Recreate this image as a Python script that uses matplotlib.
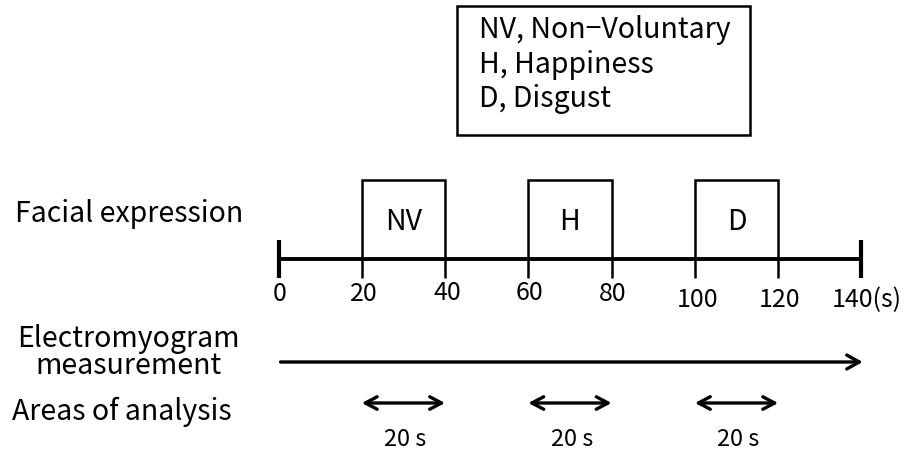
import matplotlib
matplotlib.use("Agg")
import matplotlib.pyplot as plt
from matplotlib.patches import Rectangle

plt.rcParams['font.family'] = ['Noto Sans CJK JP', 'DejaVu Sans']

# Data
conditions = ["NV", "H", "D"]
cond_start = [20, 60, 100]
cond_end = [40, 80, 120]
tick_values = [0, 20, 40, 60, 80, 100, 120, 140]
tick_labels = ["0", "20", "40", "60", "80", "100", "120", "140(s)"]
total_time = 140
analysis_start = [20, 60, 100]
analysis_end = [40, 80, 120]
analysis_labels = ["20 s", "20 s", "20 s"]
legend_lines = ["NV, Non\u2212Voluntary", "H, Happiness", "D, Disgust"]
row_labels = ["Facial expression", "Electromyogram", "measurement", "Areas of analysis"]

W, H = 919, 451
fig = plt.figure(figsize=(W / 100, H / 100), dpi=100)
ax = fig.add_axes([0, 0, 1, 1])
px0, pxs = 278.5, 4.164  # pixel of t=0, pixels per second
ax.set_xlim(-px0 / pxs, (W - px0) / pxs)
ax.set_ylim(H, 0)
ax.axis("off")


def px(x):
    return (x - px0) / pxs


fs = 20.5
y_line = 259
# main timeline
ax.plot([0, total_time], [y_line, y_line], color="black", lw=2.8, solid_capstyle="butt")
for t in [0, total_time]:
    ax.plot([t, t], [240, 278], color="black", lw=3.0, solid_capstyle="butt")
# condition boxes (sides extend below the timeline)
for name, s, e in zip(conditions, cond_start, cond_end):
    ax.plot([s, s, e, e], [278, 180, 180, 278], color="black", lw=1.8,
            solid_joinstyle="miter", solid_capstyle="butt")
    ax.text((s + e) / 2, 230, name, ha="center", va="baseline", fontsize=fs)
# tick labels
label_base = [301, 301, 300, 300, 301, 307, 307, 307]
label_dx = [0.3, 0.5, 0.5, 0.3, 0.3, 0.7, 0.3, 0]
for v, lab, yy, dx in zip(tick_values, tick_labels, label_base, label_dx):
    if lab.endswith("(s)"):
        ax.text(px(832), yy, lab, ha="left", va="baseline", fontsize=18)
    else:
        ax.text(v + dx, yy, lab, ha="center", va="baseline", fontsize=18)

# EMG arrow
ax.annotate("", xy=(total_time + 0.3, 362), xytext=(0.5, 362),
            arrowprops=dict(arrowstyle="->,head_length=0.9,head_width=0.5", lw=2.4, color="black",
                            shrinkA=0, shrinkB=0))
# analysis arrows
for s, e, lab in zip(analysis_start, analysis_end, analysis_labels):
    ax.annotate("", xy=(e, 403), xytext=(s, 403),
                arrowprops=dict(arrowstyle="<->,head_length=0.85,head_width=0.45", lw=2.4, color="black",
                                shrinkA=0, shrinkB=0))
    ax.text((s + e) / 2 + 0.5, 446, lab, ha="center", va="baseline", fontsize=17)

# row labels
ax.text(px(15), 222, row_labels[0], ha="left", va="baseline", fontsize=fs)
ax.text(px(128), 347, row_labels[1], ha="center", va="baseline", fontsize=fs)
ax.text(px(128), 374, row_labels[2], ha="center", va="baseline", fontsize=fs)
ax.text(px(12), 420, row_labels[3], ha="left", va="baseline", fontsize=fs)

# legend box
bx0, bx1, by0, by1 = 457, 750, 6, 135
ax.add_patch(Rectangle((px(bx0), by0), (bx1 - bx0) / pxs, by1 - by0,
                       fill=False, ec="black", lw=1.8))
for i, line in enumerate(legend_lines):
    ax.text(px(479), 38 + 34.5 * i, line, ha="left", va="baseline", fontsize=fs)

fig.savefig("out.png", dpi=100, facecolor="white")
